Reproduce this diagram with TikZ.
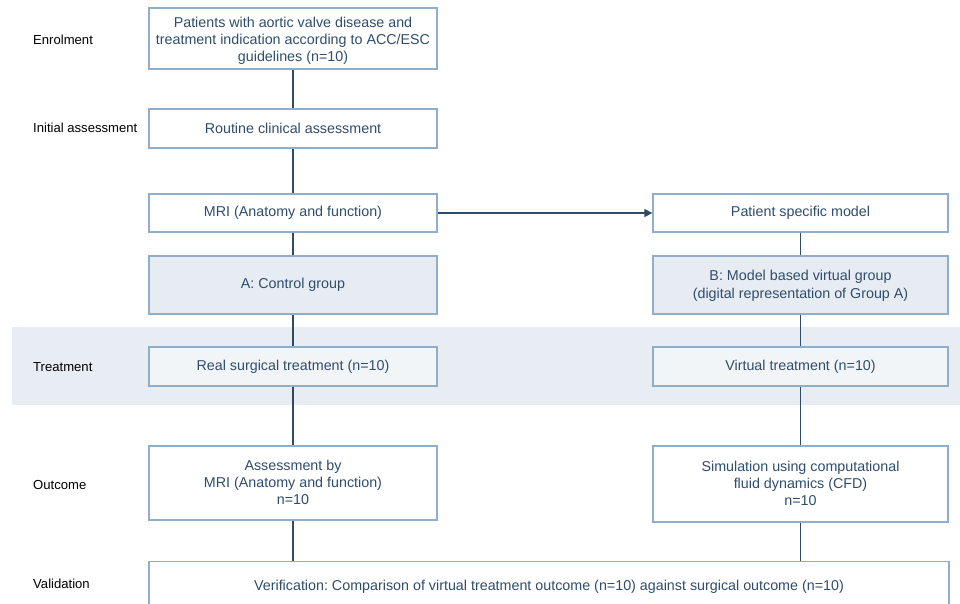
\documentclass[tikz,border=0pt]{standalone}
\usepackage{fontspec}
\setmainfont{Liberation Sans}
\usetikzlibrary{arrows.meta}
\definecolor{bordc}{HTML}{8FAECB}
\definecolor{linec}{HTML}{2E4A66}
\definecolor{txtc}{HTML}{2F4D6C}
\definecolor{fillA}{HTML}{E7ECF3}
\definecolor{fillT}{HTML}{F2F5F8}
\definecolor{bandc}{HTML}{E8ECF3}
\frenchspacing
\newcommand{\dnshift}[2]{\raisebox{-#1}[\height][\depth]{\begin{tabular}{@{}c@{}}#2\end{tabular}}}
\begin{document}
\begin{tikzpicture}[x=1pt,y=-1pt,
  box/.style={draw=bordc,line width=1.3pt,fill=white,text=txtc,align=center,font=\fontsize{14.3}{17.3}\selectfont,inner sep=0pt},
  conn/.style={draw=linec,line width=1.4pt},
  lab/.style={anchor=west,font=\fontsize{13.1}{15}\selectfont,text=black,inner sep=0pt}]
\useasboundingbox (0,0) rectangle (960,604);
\fill[bandc] (12,327) rectangle (960,405);
% left column
\node[box,minimum width=288,minimum height=61] (p) at (293,38.5) {\dnshift{2.5pt}{Patients with aortic valve disease and\\treatment indication according to ACC/ESC\\guidelines (n=10)}};
\node[box,minimum width=288,minimum height=39] (r) at (293,128.5) {Routine clinical assessment};
\node[box,minimum width=288,minimum height=38] (m) at (293,213) {MRI (Anatomy and function)};
\node[box,fill=fillA,minimum width=288,minimum height=58] (a) at (293,285) {A: Control group};
\node[box,fill=fillT,minimum width=288,minimum height=39] (s) at (293,366.5) {Real surgical treatment (n=10)};
\node[box,minimum width=288,minimum height=74] (o) at (293,483) {\dnshift{1pt}{Assessment by\\MRI (Anatomy and function)\\n=10}};
% right column
\node[box,minimum width=295,minimum height=38] (psm) at (800.5,213) {Patient specific model};
\node[box,fill=fillA,minimum width=295,minimum height=58] (b) at (800.5,285) {\dnshift{1pt}{B: Model based virtual group\\(digital representation of Group A)}};
\node[box,fill=fillT,minimum width=295,minimum height=39] (v) at (800.5,366.5) {Virtual treatment (n=10)};
\node[box,minimum width=295,minimum height=76] (c) at (800.5,484) {\dnshift{1pt}{Simulation using computational\\fluid dynamics (CFD)\\n=10}};
% bottom
\node[box,minimum width=800,minimum height=50,anchor=north] (ver) at (549,561) {Verification: Comparison of virtual treatment outcome (n=10) against surgical outcome (n=10)};
% connectors
\draw[conn] (p) -- (r);
\draw[conn] (r) -- (m);
\draw[conn] (m) -- (a);
\draw[conn] (a) -- (s);
\draw[conn] (s) -- (o);
\draw[conn] (o.south) -- (o.south |- ver.north);
\draw[conn] (psm) -- (b);
\draw[conn] (b) -- (v);
\draw[conn] (v) -- (c);
\draw[conn] (c.south) -- (c.south |- ver.north);
\draw[conn,-{Triangle[length=8pt,width=8pt]}] (m) -- (psm);
% labels
\node[lab] (l1) at (33,40) {Enrolment};
\node[lab] (l2) at (33,128) {Initial assessment};
\node[lab] (l3) at (33,367) {Treatment};
\node[lab] (l4) at (33,485) {Outcome};
\node[lab] (l5) at (33,584) {Validation};
\end{tikzpicture}
\end{document}
